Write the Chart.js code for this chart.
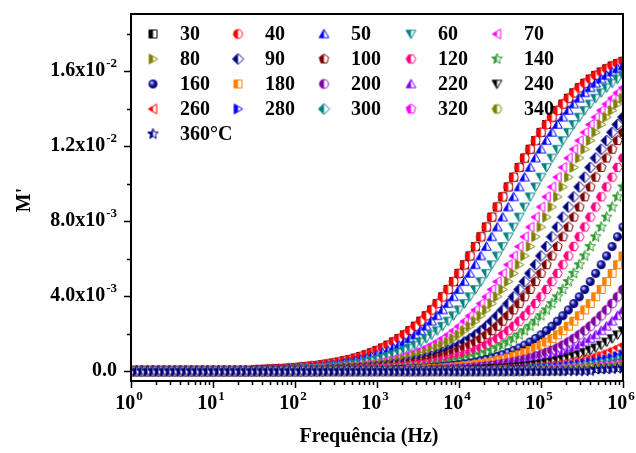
<!DOCTYPE html>
<html>
<head>
<meta charset="utf-8">
<script src="https://cdn.jsdelivr.net/npm/chart.js@4.4.0/dist/chart.umd.min.js"></script>
<style>
    html, body { margin: 0; padding: 0; background: #fff; }
    #wrap { width: 636px; height: 453px; }
</style>
</head>
<body>
<div id="wrap"><canvas id="chart" width="636" height="453"></canvas></div>
<script>
// frequency grid: 15 points per decade, 1 Hz .. 1 MHz
const mantissas = [1, 1.166, 1.359, 1.585, 1.848, 2.154, 2.512, 2.929, 3.415, 3.981, 4.642, 5.412, 6.310, 7.356, 8.577];
const freq = [];
for (let d = 0; d < 6; d++) mantissas.forEach(m => freq.push(m * Math.pow(10, d)));
freq.push(1e6);

// temperatures (legend)
const temps = ['30', '40', '50', '60', '70', '80', '90', '100', '120', '140', '160',
               '180', '200', '220', '240', '260', '280', '300', '320', '340', '360°C'];

// M' values in units of 1e-3, one per frequency
const m30 = [0,0,0,0,0,0,0,0,0,0, 0,0,0,0,0,0,0,0,0,0, 0,0,0,
    .08,.09,.1,.11,.13,.14,.16,.18,.21,.24, .27,.3,.34,.38,.43,.48,.55,.61,.69,.78, .87,.98,1.1,1.23,1.38,1.55,1.73,1.93,2.15,2.39,
    2.66,2.95,3.26,3.6,3.96,4.35,4.77,5.21,5.67,6.14, 6.64,7.16,7.68,8.21,8.75,9.29,9.82,10.34,10.86,11.36,
    11.83,12.29,12.73,13.15,13.54,13.9,14.24,14.55,14.84,15.11, 15.35,15.57,15.77,15.95,16.12,16.27,16.4,16.52];
const m40 = [0,0,0,0,0,0,0,0,0,0, 0,0,0,0,0,0,0,0,0,0, 0,0,0,
    .08,.09,.1,.11,.13,.14,.16,.18,.21,.24, .27,.3,.34,.38,.43,.48,.55,.61,.69,.78, .87,.98,1.1,1.23,1.38,1.55,1.73,1.93,2.15,2.39,
    2.66,2.95,3.26,3.6,3.96,4.35,4.77,5.21,5.67,6.14, 6.64,7.16,7.68,8.21,8.75,9.29,9.82,10.34,10.86,11.36,
    11.83,12.29,12.73,13.15,13.54,13.9,14.24,14.55,14.84,15.11, 15.35,15.57,15.77,15.95,16.12,16.27,16.4,16.52];
const m50 = [0,0,0,0,0,0,0,0,0,0, 0,0,0,0,0,0,0,0,0,0, 0,0,0,0,0,
    .08,.09,.1,.11,.13,.14,.16,.18,.21,.24, .27,.3,.34,.38,.43,.48,.55,.61,.69,.78, .87,.98,1.1,1.23,1.38,1.55,1.73,1.93,2.15,2.39,
    2.66,2.95,3.26,3.6,3.96,4.35,4.77,5.21,5.67,6.14, 6.64,7.16,7.68,8.21,8.75,9.29,9.82,10.34,10.86,11.36,
    11.83,12.29,12.73,13.15,13.54,13.9,14.24,14.55,14.84,15.11, 15.35,15.57,15.77,15.95,16.12,16.27];
const m60 = [0,0,0,0,0,0,0,0,0,0, 0,0,0,0,0,0,0,0,0,0, 0,0,0,0,0,0,0,0,
    .08,.09,.1,.11,.13,.14,.16,.18,.21,.24, .27,.3,.34,.38,.43,.48,.55,.61,.69,.78, .87,.98,1.1,1.23,1.38,1.55,1.73,1.93,2.15,2.39,
    2.66,2.95,3.26,3.6,3.96,4.35,4.77,5.21,5.67,6.14, 6.64,7.16,7.68,8.21,8.75,9.29,9.82,10.34,10.86,11.36,
    11.83,12.29,12.73,13.15,13.54,13.9,14.24,14.55,14.84,15.11, 15.35,15.57,15.77];
const m70 = [0,0,0,0,0,0,0,0,0,0, 0,0,0,0,0,0,0,0,0,0, 0,0,0,0,0,0,0,0,0,0, 0,
    .08,.09,.1,.11,.13,.14,.16,.18,.21,.24, .27,.3,.34,.38,.43,.48,.55,.61,.69,.78, .87,.98,1.1,1.23,1.38,1.55,1.73,1.93,2.15,2.39,
    2.66,2.95,3.26,3.6,3.96,4.35,4.77,5.21,5.67,6.14, 6.64,7.16,7.68,8.21,8.75,9.29,9.82,10.34,10.86,11.36,
    11.83,12.29,12.73,13.15,13.54,13.9,14.24,14.55,14.84,15.11];
const m80 = [0,0,0,0,0,0,0,0,0,0, 0,0,0,0,0,0,0,0,0,0, 0,0,0,0,0,0,0,0,0,0, 0,0,0,
    .08,.09,.1,.11,.13,.14,.16,.18,.21,.24, .27,.3,.34,.38,.43,.48,.55,.61,.69,.78, .87,.98,1.1,1.23,1.38,1.55,1.73,1.93,2.15,2.39,
    2.66,2.95,3.26,3.6,3.96,4.35,4.77,5.21,5.67,6.14, 6.64,7.16,7.68,8.21,8.75,9.29,9.82,10.34,10.86,11.36,
    11.83,12.29,12.73,13.15,13.54,13.9,14.24,14.55];
const m90 = [0,0,0,0,0,0,0,0,0,0, 0,0,0,0,0,0,0,0,0,0, 0,0,0,0,0,0,0,0,0,0, 0,0,0,0,0,0,
    .08,.09,.1,.11,.13,.14,.16,.18,.21,.24, .27,.3,.34,.38,.43,.48,.55,.61,.69,.78, .87,.98,1.1,1.23,1.38,1.55,1.73,1.93,2.15,2.39,
    2.66,2.95,3.26,3.6,3.96,4.35,4.77,5.21,5.67,6.14, 6.64,7.16,7.68,8.21,8.75,9.29,9.82,10.34,10.86,11.36,
    11.83,12.29,12.73,13.15,13.54];
const m100 = [0,0,0,0,0,0,0,0,0,0, 0,0,0,0,0,0,0,0,0,0, 0,0,0,0,0,0,0,0,0,0, 0,0,0,0,0,0,0,0,
    .08,.09,.1,.11,.13,.14,.16,.18,.21,.24, .27,.3,.34,.38,.43,.48,.55,.61,.69,.78, .87,.98,1.1,1.23,1.38,1.55,1.73,1.93,2.15,2.39,
    2.66,2.95,3.26,3.6,3.96,4.35,4.77,5.21,5.67,6.14, 6.64,7.16,7.68,8.21,8.75,9.29,9.82,10.34,10.86,11.36,
    11.83,12.29,12.73];
const m120 = [0,0,0,0,0,0,0,0,0,0, 0,0,0,0,0,0,0,0,0,0, 0,0,0,0,0,0,0,0,0,0, 0,0,0,0,0,0,0,0,0,0, 0,
    .08,.09,.1,.11,.13,.14,.16,.18,.21,.24, .27,.3,.34,.38,.43,.48,.55,.61,.69,.78, .87,.98,1.1,1.23,1.38,1.55,1.73,1.93,2.15,2.39,
    2.66,2.95,3.26,3.6,3.96,4.35,4.77,5.21,5.67,6.14, 6.64,7.16,7.68,8.21,8.75,9.29,9.82,10.34,10.86,11.36];
const m140 = [0,0,0,0,0,0,0,0,0,0, 0,0,0,0,0,0,0,0,0,0, 0,0,0,0,0,0,0,0,0,0, 0,0,0,0,0,0,0,0,0,0, 0,0,0,0,
    .08,.09,.1,.11,.13,.14,.16,.18,.21,.24, .27,.3,.34,.38,.43,.48,.55,.61,.69,.78, .87,.98,1.1,1.23,1.38,1.55,1.73,1.93,2.15,2.39,
    2.66,2.95,3.26,3.6,3.96,4.35,4.77,5.21,5.67,6.14, 6.64,7.16,7.68,8.21,8.75,9.29,9.82];
const m160 = [0,0,0,0,0,0,0,0,0,0, 0,0,0,0,0,0,0,0,0,0, 0,0,0,0,0,0,0,0,0,0, 0,0,0,0,0,0,0,0,0,0, 0,0,0,0,0,0,0,0,
    .08,.09,.1,.11,.13,.14,.16,.18,.21,.24, .27,.3,.34,.38,.43,.48,.55,.61,.69,.78, .87,.98,1.1,1.23,1.38,1.55,1.73,1.93,2.15,2.39,
    2.66,2.95,3.26,3.6,3.96,4.35,4.77,5.21,5.67,6.14, 6.64,7.16,7.68];
const m180 = [0,0,0,0,0,0,0,0,0,0, 0,0,0,0,0,0,0,0,0,0, 0,0,0,0,0,0,0,0,0,0, 0,0,0,0,0,0,0,0,0,0, 0,0,0,0,0,0,0,0,0,0, 0,
    .08,.09,.1,.11,.13,.14,.16,.18,.21,.24, .27,.3,.34,.38,.43,.48,.55,.61,.69,.78, .87,.98,1.1,1.23,1.38,1.55,1.73,1.93,2.15,2.39,
    2.66,2.95,3.26,3.6,3.96,4.35,4.77,5.21,5.67,6.14];
const m200 = [0,0,0,0,0,0,0,0,0,0, 0,0,0,0,0,0,0,0,0,0, 0,0,0,0,0,0,0,0,0,0, 0,0,0,0,0,0,0,0,0,0, 0,0,0,0,0,0,0,0,0,0, 0,0,0,0,0,
    .08,.09,.1,.11,.13,.14,.16,.18,.21,.24, .27,.3,.34,.38,.43,.48,.55,.61,.69,.78, .87,.98,1.1,1.23,1.38,1.55,1.73,1.93,2.15,2.39,
    2.66,2.95,3.26,3.6,3.96,4.35];
const m220 = [0,0,0,0,0,0,0,0,0,0, 0,0,0,0,0,0,0,0,0,0, 0,0,0,0,0,0,0,0,0,0, 0,0,0,0,0,0,0,0,0,0, 0,0,0,0,0,0,0,0,0,0, 0,0,0,0,0,0,0,0,
    .08,.09,.1,.11,.13,.14,.16,.18,.21,.24, .27,.3,.34,.38,.43,.48,.55,.61,.69,.78, .87,.98,1.1,1.23,1.38,1.55,1.73,1.93,2.15,2.39,
    2.66,2.95,3.26];
const m240 = [0,0,0,0,0,0,0,0,0,0, 0,0,0,0,0,0,0,0,0,0, 0,0,0,0,0,0,0,0,0,0, 0,0,0,0,0,0,0,0,0,0, 0,0,0,0,0,0,0,0,0,0, 0,0,0,0,0,0,0,0,0,0, 0,0,
    .08,.09,.1,.11,.13,.14,.16,.18,.21,.24, .27,.3,.34,.38,.43,.48,.55,.61,.69,.78, .87,.98,1.1,1.23,1.38,1.55,1.73,1.93,2.15];
const m260 = [0,0,0,0,0,0,0,0,0,0, 0,0,0,0,0,0,0,0,0,0, 0,0,0,0,0,0,0,0,0,0, 0,0,0,0,0,0,0,0,0,0, 0,0,0,0,0,0,0,0,0,0, 0,0,0,0,0,0,0,0,0,0, 0,0,0,0,0,0,
    .08,.09,.1,.11,.13,.14,.16,.18,.21,.24, .27,.3,.34,.38,.43,.48,.55,.61,.69,.78, .87,.98,1.1,1.23,1.38];
const m280 = [0,0,0,0,0,0,0,0,0,0, 0,0,0,0,0,0,0,0,0,0, 0,0,0,0,0,0,0,0,0,0, 0,0,0,0,0,0,0,0,0,0, 0,0,0,0,0,0,0,0,0,0, 0,0,0,0,0,0,0,0,0,0, 0,0,0,0,0,0,0,0,0,0,
    .08,.09,.1,.11,.13,.14,.16,.18,.21,.24, .27,.3,.34,.38,.43,.48,.55,.61,.69,.78, .87];
const m300 = [0,0,0,0,0,0,0,0,0,0, 0,0,0,0,0,0,0,0,0,0, 0,0,0,0,0,0,0,0,0,0, 0,0,0,0,0,0,0,0,0,0, 0,0,0,0,0,0,0,0,0,0, 0,0,0,0,0,0,0,0,0,0, 0,0,0,0,0,0,0,0,0,0, 0,0,0,
    .08,.09,.1,.11,.13,.14,.16,.18,.21,.24, .27,.3,.34,.38,.43,.48,.55,.61];
const m320 = [0,0,0,0,0,0,0,0,0,0, 0,0,0,0,0,0,0,0,0,0, 0,0,0,0,0,0,0,0,0,0, 0,0,0,0,0,0,0,0,0,0, 0,0,0,0,0,0,0,0,0,0, 0,0,0,0,0,0,0,0,0,0, 0,0,0,0,0,0,0,0,0,0, 0,0,0,0,0,0,0,
    .08,.09,.1,.11,.13,.14,.16,.18,.21,.24, .27,.3,.34,.38];
const m340 = [0,0,0,0,0,0,0,0,0,0, 0,0,0,0,0,0,0,0,0,0, 0,0,0,0,0,0,0,0,0,0, 0,0,0,0,0,0,0,0,0,0, 0,0,0,0,0,0,0,0,0,0, 0,0,0,0,0,0,0,0,0,0, 0,0,0,0,0,0,0,0,0,0, 0,0,0,0,0,0,0,0,0,0,
    .08,.09,.1,.11,.13,.14,.16,.18,.21,.24, .27];
const m360 = [0,0,0,0,0,0,0,0,0,0, 0,0,0,0,0,0,0,0,0,0, 0,0,0,0,0,0,0,0,0,0, 0,0,0,0,0,0,0,0,0,0, 0,0,0,0,0,0,0,0,0,0, 0,0,0,0,0,0,0,0,0,0, 0,0,0,0,0,0,0,0,0,0, 0,0,0,0,0,0,0,0,0,0, 0,0,0,0,0,
    .08,.09,.1,.11,.13,.14];

const series = [m30, m40, m50, m60, m70, m80, m90, m100, m120, m140, m160,
                m180, m200, m220, m240, m260, m280, m300, m320, m340, m360];

const colors = ['#000000', '#ff0000', '#0000ff', '#008080', '#ff00ff', '#808000', '#000080', '#800000',
                '#ff0080', '#2e9a2e', '#1010a0', '#ff8000', '#8000a0', '#8000ff', '#000000', '#ff0000',
                '#0000ff', '#008080', '#ff00ff', '#808000', '#000080'];
const shapes = ['square', 'circle', 'up', 'down', 'left', 'right', 'diamond', 'pentagon', 'hexagon', 'star', 'sphere',
                'square', 'circle', 'up', 'down', 'left', 'right', 'diamond', 'pentagon', 'hexagon', 'star'];

const yTicks = [0, 0.004, 0.008, 0.012, 0.016];
const yTickLabels = [['0.0', ''], ['4.0x10', '-3'], ['8.0x10', '-3'], ['1.2x10', '-2'], ['1.6x10', '-2']];
const yMinorTicks = [0.002, 0.006, 0.010, 0.014, 0.018];
const xTicks = [1, 10, 100, 1e3, 1e4, 1e5, 1e6];
const xTickExps = ['0', '1', '2', '3', '4', '5', '6'];

const FONT = '"Liberation Serif", "Times New Roman", serif';

series.forEach((s, i) => {
    if (s.length !== freq.length) console.error('length mismatch', temps[i], s.length);
});

function polyPath(g, cx, cy, r, n, startDeg) {
    for (let k = 0; k < n; k++) {
        const a = (startDeg + k * 360 / n) * Math.PI / 180;
        const px = cx + r * Math.cos(a), py = cy + r * Math.sin(a);
        if (k === 0) g.moveTo(px, py); else g.lineTo(px, py);
    }
}

function makeMarker(shape, color) {
    const size = 13, c = size / 2;
    const cv = document.createElement('canvas');
    cv.width = size; cv.height = size;
    const g = cv.getContext('2d');
    g.beginPath();
    switch (shape) {
        case 'square': g.rect(c - 4, c - 4, 8, 8); break;
        case 'circle':
        case 'sphere': g.arc(c, c, 4.5, 0, Math.PI * 2); break;
        case 'up': polyPath(g, c, c + 0.9, 5.6, 3, -90); break;
        case 'down': polyPath(g, c, c - 0.9, 5.6, 3, 90); break;
        case 'left': polyPath(g, c + 0.9, c, 5.6, 3, 180); break;
        case 'right': polyPath(g, c - 0.9, c, 5.6, 3, 0); break;
        case 'diamond': polyPath(g, c, c, 5.5, 4, -90); break;
        case 'pentagon': polyPath(g, c, c, 5, 5, -90); break;
        case 'hexagon': polyPath(g, c, c, 4.8, 6, 0); break;
        case 'star':
            for (let k = 0; k < 10; k++) {
                const r = k % 2 === 0 ? 5.6 : 2.4;
                const a = (-90 + k * 36) * Math.PI / 180;
                const px = c + r * Math.cos(a), py = c + r * Math.sin(a);
                if (k === 0) g.moveTo(px, py); else g.lineTo(px, py);
            }
            break;
    }
    g.closePath();
    if (shape === 'sphere') {
        const grad = g.createRadialGradient(c - 1.5, c - 1.5, 0.5, c, c, 5);
        grad.addColorStop(0, '#c8c8ff');
        grad.addColorStop(0.45, color);
        grad.addColorStop(1, '#000050');
        g.fillStyle = grad;
        g.fill();
        return cv;
    }
    g.fillStyle = '#ffffff';
    g.fill();
    g.save();
    g.clip();
    g.fillStyle = color;
    g.fillRect(0, 0, c, size);
    g.restore();
    g.strokeStyle = color;
    g.lineWidth = 1;
    g.stroke();
    return cv;
}

const markers = shapes.map((s, i) => makeMarker(s, colors[i]));

function drawPower(ctx, base, exp, x, y, align) {
    ctx.font = 'bold 20px ' + FONT;
    const wb = ctx.measureText(base).width;
    ctx.font = 'bold 13px ' + FONT;
    const we = exp ? ctx.measureText(exp).width + 1 : 0;
    let x0 = x;
    if (align === 'right') x0 = x - wb - we;
    else if (align === 'center') x0 = x - (wb + we) / 2;
    ctx.textAlign = 'left';
    ctx.textBaseline = 'middle';
    ctx.font = 'bold 20px ' + FONT;
    ctx.fillText(base, x0, y);
    if (exp) {
        ctx.font = 'bold 13px ' + FONT;
        ctx.fillText(exp, x0 + wb + 1, y - 7);
    }
}

const framePlugin = {
    id: 'frame',
    afterDraw(chart) {
        const ctx = chart.ctx, ca = chart.chartArea;
        const xs = chart.scales.x, ys = chart.scales.y;
        ctx.save();
        ctx.fillStyle = '#000';
        ctx.strokeStyle = '#000';

        // ticks
        ctx.lineWidth = 1.5;
        ctx.beginPath();
        yTicks.forEach(v => {
            const y = Math.round(ys.getPixelForValue(v)) + 0.5;
            ctx.moveTo(ca.left - 7, y); ctx.lineTo(ca.left, y);
        });
        yMinorTicks.forEach(v => {
            const y = Math.round(ys.getPixelForValue(v)) + 0.5;
            ctx.moveTo(ca.left - 4, y); ctx.lineTo(ca.left, y);
        });
        xTicks.forEach((v, i) => {
            const x = Math.round(xs.getPixelForValue(v)) + 0.5;
            ctx.moveTo(x, ca.bottom); ctx.lineTo(x, ca.bottom + 7);
            if (i < xTicks.length - 1) {
                for (let m = 2; m <= 9; m++) {
                    const xm = Math.round(xs.getPixelForValue(v * m)) + 0.5;
                    ctx.moveTo(xm, ca.bottom); ctx.lineTo(xm, ca.bottom + 4);
                }
            }
        });
        ctx.stroke();

        // frame
        ctx.lineWidth = 2;
        ctx.strokeRect(ca.left, ca.top, ca.right - ca.left, ca.bottom - ca.top);

        // tick labels
        yTicks.forEach((v, i) => {
            drawPower(ctx, yTickLabels[i][0], yTickLabels[i][1], 117, ys.getPixelForValue(v), 'right');
        });
        xTicks.forEach((v, i) => {
            drawPower(ctx, '10', xTickExps[i], xs.getPixelForValue(v) - 2, 404, 'center');
        });

        // axis titles
        ctx.font = 'bold 20px ' + FONT;
        ctx.textAlign = 'center';
        ctx.textBaseline = 'middle';
        ctx.fillText('Frequência (Hz)', 369, 437);
        ctx.save();
        ctx.translate(25, 200);
        ctx.rotate(-Math.PI / 2);
        ctx.fillText("M'", 0, 0);
        ctx.restore();

        // legend, 5 columns
        const colMarker = [153, 238, 324, 411, 497];
        temps.forEach((t, i) => {
            const col = i % 5, row = Math.floor(i / 5);
            const y = 34 + row * 25;
            const mk = markers[i];
            ctx.drawImage(mk, colMarker[col] - mk.width / 2, y - mk.height / 2);
            ctx.font = 'bold 20px ' + FONT;
            ctx.textAlign = 'left';
            ctx.fillText(t, colMarker[col] + 27, y + 1);
        });
        ctx.restore();
    }
};

const datasets = series.map((vals, i) => ({
    label: temps[i],
    data: vals.map((v, j) => ({ x: freq[j], y: v * 1e-3 })),
    pointStyle: markers[i],
    showLine: false,
    order: series.length - i
}));

new Chart(document.getElementById('chart'), {
    type: 'scatter',
    data: { datasets: datasets },
    options: {
        responsive: false,
        animation: false,
        devicePixelRatio: 1,
        events: [],
        layout: { padding: { left: 131, right: 13, top: 14, bottom: 72 } },
        plugins: { legend: { display: false }, tooltip: { enabled: false } },
        scales: {
            x: { type: 'logarithmic', min: 1, max: 1e6, display: false },
            y: { type: 'linear', min: -0.000533, max: 0.01904, display: false }
        }
    },
    plugins: [framePlugin]
});
</script>
</body>
</html>
